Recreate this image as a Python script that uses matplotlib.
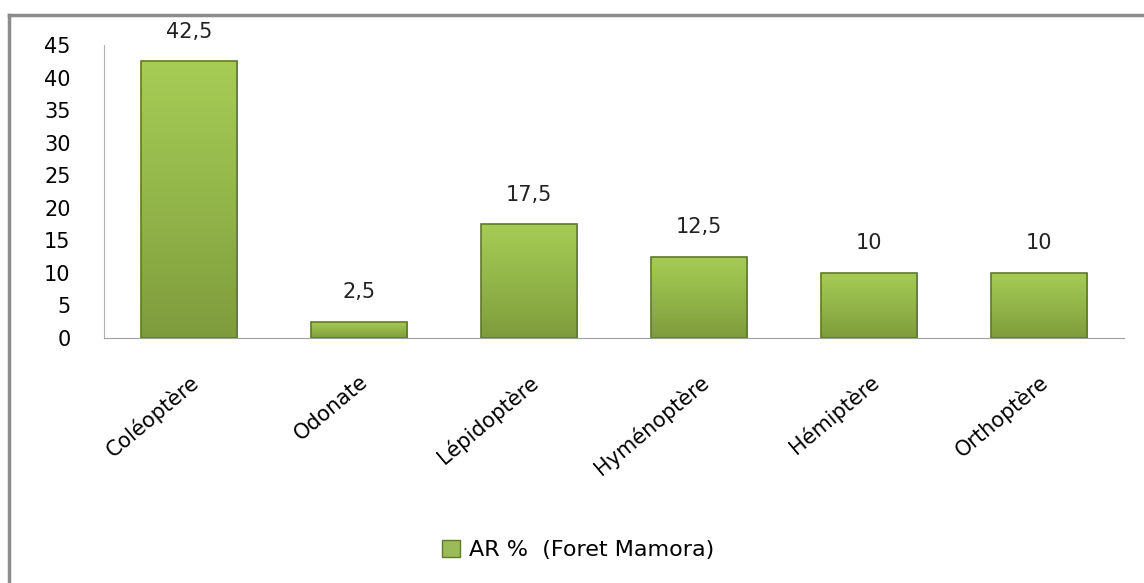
#!/usr/bin/env python3
"""Bar chart: AR % by insect order (Foret Mamora)."""
import numpy as np
import matplotlib
matplotlib.use("Agg")
import matplotlib.pyplot as plt
from matplotlib.colors import LinearSegmentedColormap
from matplotlib.patches import Rectangle

categories = ["Coléoptère", "Odonate", "Lépidoptère", "Hyménoptère", "Hémiptère", "Orthoptère"]
ar_pct = [42.5, 2.5, 17.5, 12.5, 10, 10]
value_labels = ["42,5", "2,5", "17,5", "12,5", "10", "10"]
series_name = "AR %  (Foret Mamora)"
y_ticks = [0, 5, 10, 15, 20, 25, 30, 35, 40, 45]

plt.rcParams["font.family"] = ["DejaVu Sans"]

fig = plt.figure(figsize=(11.44, 5.83), dpi=100)
ax = fig.add_axes([104 / 1144, 1 - 338 / 583, 1020 / 1144, 293 / 583])

x = np.arange(len(categories))
bars = ax.bar(x, ar_pct, width=0.57, color="#9bbb59", zorder=2)

# vertical gradient + darker edges to mimic the bevelled Excel bars
grad = LinearSegmentedColormap.from_list("g", ["#7e9c3c", "#93b64a", "#a6cc55"])
for b, lab in zip(bars, value_labels):
    x0, w, h = b.get_x(), b.get_width(), b.get_height()
    img = np.linspace(0, 1, 100).reshape(-1, 1)
    im = ax.imshow(img, cmap=grad, origin="lower", aspect="auto",
                   extent=(x0, x0 + w, 0, h), zorder=3)
    im.set_clip_path(b)
    ax.add_patch(Rectangle((x0, 0), w, h, fill=False, edgecolor="#5f7a2a",
                           linewidth=1.2, zorder=4))
    ax.annotate(lab, (x0 + w / 2, h), xytext=(0, 14), textcoords="offset points",
                ha="center", va="bottom", fontsize=15, color="#222222")

ax.set_xlim(-0.5, len(categories) - 0.5)
ax.set_ylim(0, 45)
ax.set_yticks(y_ticks)
ax.set_yticklabels([str(t) for t in y_ticks], fontsize=15)
ax.set_xticks(x)
ax.set_xticklabels(categories, rotation=40, ha="right", rotation_mode="anchor",
                   fontsize=15)
ax.tick_params(axis="y", length=0, pad=24)
ax.tick_params(axis="x", length=0, pad=24)
for s in ["top", "right"]:
    ax.spines[s].set_visible(False)
ax.spines["left"].set_color("#b0b0b0")
ax.spines["bottom"].set_color("#a0a0a0")

# legend at the bottom
handle = Rectangle((0, 0), 1, 1, facecolor="#9bbb59", edgecolor="#5f7a2a")
fig.legend([handle], [series_name], loc="center", bbox_to_anchor=(578 / 1144, 1 - 550 / 583),
           frameon=False, fontsize=16, handlelength=0.8, handleheight=0.8,
           handletextpad=0.4)

# outer chart border (only left and top visible in the crop)
fig.add_artist(plt.Line2D([9 / 1144, 9 / 1144], [0, 1 - 15 / 583], color="#8c8c8c",
                          linewidth=2.5, transform=fig.transFigure))
fig.add_artist(plt.Line2D([9 / 1144, 1], [1 - 15 / 583, 1 - 15 / 583], color="#8c8c8c",
                          linewidth=2.5, transform=fig.transFigure))

fig.savefig("out.png", dpi=100)
